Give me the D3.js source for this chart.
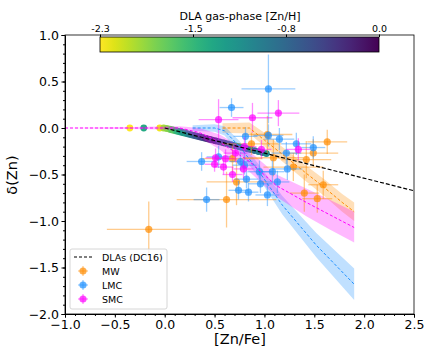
<!DOCTYPE html>
<html>
<head>
<meta charset="utf-8">
<script src="https://cdn.jsdelivr.net/npm/d3@7"></script>
<style>
  body { margin: 0; background: #fff; }
  svg { font-family: "DejaVu Sans", sans-serif; }
</style>
</head>
<body>
<div id="chart"></div>
<script>
// DLA points (De Cia 2016): [Zn/Fe] and gas-phase [Zn/H]
let dlaZnFe = [-0.35, -0.21, -0.05, -0.01, 0.02, 0.05, 0.07, 0.09, 0.11, 0.13, 0.15, 0.17, 0.19, 0.21,
    0.23, 0.25, 0.27, 0.29, 0.31, 0.33, 0.35, 0.37, 0.39, 0.41, 0.43, 0.45, 0.47, 0.5, 0.52, 0.55,
    0.58, 0.6, 0.63, 0.66, 0.68, 0.71, 0.74, 0.77, 0.8, 0.83, 0.86, 0.9, 0.94, 0.98, 1.02];
let dlaZnH = [-2.3, -1.4, -2.25, -2.0, -1.9, -1.85, -1.7, -1.75, -1.6, -1.5, -1.45, -1.3, -1.2, -1.35,
    -1.1, -1.0, -0.9, -0.8, -0.6, -0.7, -0.5, -0.4, -0.55, -0.3, -0.35, -0.2, -0.45, -0.25, -0.4, -0.6,
    -0.8, -0.7, -0.9, -1.0, -0.85, -1.1, -0.95, -1.2, -1.0, -0.9, -1.1, -0.8, -1.0, -0.9, -1.1];
let dlaDelta = dlaZnFe.map(function (v) { return v < 0 ? 0 : -0.27 * v; });

// DC16 relation
let dlaLineX = [0, 2.5];
let dlaLineY = [0, -0.675];

// MW / LMC / SMC sight lines: [Zn/Fe], delta(Zn), xerr, yerr
let mwX    = [-0.16, 0.62, 0.72, 0.68, 0.87, 1.03, 1.09, 1.29, 1.49, 1.63, 1.42, 1.59, 1.40, 1.53];
let mwY    = [-1.09, -0.77, -0.58, -0.33, -0.17, -0.07, -0.32, -0.42, -0.27, -0.15, -0.34, -0.61, -0.70, -0.76];
let mwXerr = [0.42, 0.5, 0.3, 0.3, 0.3, 0.25, 0.3, 0.3, 0.25, 0.2, 0.25, 0.15, 0.15, 0.15];
let mwYerr = [0.3, 0.3, 0.25, 0.15, 0.12, 0.2, 0.2, 0.15, 0.15, 0.13, 0.2, 0.15, 0.2, 0.15];

let lmcX    = [1.04, 0.67, 0.81, 1.04, 1.15, 1.32, 1.49, 1.22, 0.37, 0.54, 0.76, 0.80, 0.82, 0.95, 1.08,
    1.23, 0.96, 1.13, 0.74, 0.84, 1.03, 0.42];
let lmcY    = [0.42, 0.22, -0.09, -0.08, -0.12, -0.17, -0.21, -0.27, -0.36, -0.31, -0.36, -0.40, -0.55,
    -0.47, -0.47, -0.44, -0.60, -0.58, -0.67, -0.69, -0.72, -0.77];
let lmcXerr = [0.27, 0.12, 0.12, 0.15, 0.15, 0.15, 0.12, 0.15, 0.15, 0.12, 0.12, 0.12, 0.12, 0.12, 0.12,
    0.15, 0.12, 0.12, 0.1, 0.1, 0.12, 0.13];
let lmcYerr = [0.37, 0.1, 0.1, 0.12, 0.12, 0.12, 0.12, 0.12, 0.1, 0.12, 0.1, 0.1, 0.1, 0.12, 0.12,
    0.12, 0.1, 0.12, 0.1, 0.1, 0.12, 0.13];

let smcX    = [0.54, 0.88, 1.14, 0.71, 0.97, 0.80, 1.34, 0.51, 0.61, 0.50, 0.59, 0.68, 0.79];
let smcY    = [0.09, 0.11, 0.16, -0.27, -0.23, -0.20, -0.23, -0.32, -0.33, -0.39, -0.42, -0.50, -0.44];
let smcXerr = [0.2, 0.2, 0.21, 0.12, 0.1, 0.12, 0.12, 0.1, 0.1, 0.1, 0.1, 0.1, 0.1];
let smcYerr = [0.22, 0.16, 0.14, 0.1, 0.1, 0.1, 0.12, 0.1, 0.1, 0.08, 0.08, 0.08, 0.1];

// fitted relations with uncertainty bands
let mwFitX  = [0.58, 0.85, 1.0, 1.2, 1.4, 1.6, 1.78, 1.9];
let mwFitY  = [0, 0, -0.13, -0.3, -0.47, -0.64, -0.8, -0.9];
let mwFitLo = [-0.05, -0.06, -0.2, -0.38, -0.56, -0.73, -0.9, -1.0];
let mwFitHi = [0.05, 0.06, -0.05, -0.22, -0.39, -0.55, -0.71, -0.8];

let lmcFitX  = [0.28, 0.5, 0.6, 0.75, 0.92, 1.18, 1.52, 1.9];
let lmcFitY  = [0, 0, -0.03, -0.2, -0.43, -0.83, -1.26, -1.68];
let lmcFitLo = [-0.03, -0.04, -0.08, -0.26, -0.5, -0.93, -1.39, -1.85];
let lmcFitHi = [0.03, 0.04, 0.02, -0.14, -0.36, -0.73, -1.13, -1.51];

let smcFitX  = [-1.0, 0.15, 0.35, 0.55, 0.85, 1.12, 1.42, 1.65, 1.9];
let smcFitY  = [0, 0, -0.05, -0.15, -0.36, -0.62, -0.8, -0.93, -1.07];
let smcFitLo = [0, -0.02, -0.1, -0.23, -0.47, -0.74, -0.95, -1.09, -1.23];
let smcFitHi = [0, 0.02, 0.0, -0.07, -0.25, -0.5, -0.65, -0.77, -0.9];

let xTicks = [-1.0, -0.5, 0.0, 0.5, 1.0, 1.5, 2.0, 2.5];
let yTicks = [-2.0, -1.5, -1.0, -0.5, 0.0, 0.5, 1.0];
let cbarTicks = [-2.3, -1.5333, -0.7667, 0.0];
let cbarTickLabels = ["-2.3", "-1.5", "-0.8", "0.0"];

let width = 436, height = 349;
let svg = d3.select("#chart").append("svg").attr("width", width).attr("height", height);

let x = d3.scaleLinear().domain([-1, 2.5]).range([65, 414]);
let y = d3.scaleLinear().domain([-2, 1]).range([314, 35]);
let color = d3.scaleSequential(d3.interpolateViridis).domain([0, -2.3]);

svg.append("clipPath").attr("id", "clip").append("rect")
    .attr("x", 65).attr("y", 35).attr("width", 349).attr("height", 279);
let plot = svg.append("g").attr("clip-path", "url(#clip)");

let series = [
    {name: "MW", c: "#ff8c00", xs: mwX, ys: mwY, xe: mwXerr, ye: mwYerr, fx: mwFitX, fy: mwFitY, lo: mwFitLo, hi: mwFitHi},
    {name: "LMC", c: "#1e90ff", xs: lmcX, ys: lmcY, xe: lmcXerr, ye: lmcYerr, fx: lmcFitX, fy: lmcFitY, lo: lmcFitLo, hi: lmcFitHi},
    {name: "SMC", c: "#ff00ff", xs: smcX, ys: smcY, xe: smcXerr, ye: smcYerr, fx: smcFitX, fy: smcFitY, lo: smcFitLo, hi: smcFitHi}
];

// DLA points
plot.selectAll(".dla").data(dlaZnFe).enter().append("circle")
    .attr("class", "dla")
    .attr("cx", function (d) { return x(d); })
    .attr("cy", function (d, i) { return y(dlaDelta[i]); })
    .attr("r", 3.4)
    .attr("fill", function (d, i) { return color(dlaZnH[i]); });

let area = d3.area()
    .x(function (d) { return x(d[0]); })
    .y0(function (d) { return y(d[1]); })
    .y1(function (d) { return y(d[2]); });
let line = d3.line()
    .x(function (d) { return x(d[0]); })
    .y(function (d) { return y(d[1]); });

series.forEach(function (s) {
    let pts = s.fx.map(function (v, i) { return [v, s.lo[i], s.hi[i]]; });
    plot.append("path").attr("d", area(pts)).attr("fill", s.c).attr("fill-opacity", 0.28);
});

series.forEach(function (s) {
    let g = plot.append("g");
    s.xs.forEach(function (v, i) {
        g.append("line")
            .attr("x1", x(v - s.xe[i])).attr("x2", x(v + s.xe[i]))
            .attr("y1", y(s.ys[i])).attr("y2", y(s.ys[i]))
            .attr("stroke", s.c).attr("stroke-opacity", 0.45).attr("stroke-width", 1.3);
        g.append("line")
            .attr("x1", x(v)).attr("x2", x(v))
            .attr("y1", y(s.ys[i] - s.ye[i])).attr("y2", y(s.ys[i] + s.ye[i]))
            .attr("stroke", s.c).attr("stroke-opacity", 0.45).attr("stroke-width", 1.3);
    });
    g.selectAll("circle").data(s.xs).enter().append("circle")
        .attr("cx", function (d) { return x(d); })
        .attr("cy", function (d, i) { return y(s.ys[i]); })
        .attr("r", 3.6)
        .attr("fill", s.c).attr("fill-opacity", 0.7);
});

series.forEach(function (s) {
    let pts = s.fx.map(function (v, i) { return [v, s.fy[i]]; });
    plot.append("path").attr("d", line(pts)).attr("fill", "none")
        .attr("stroke", s.c).attr("stroke-width", 1).attr("stroke-dasharray", "3,2");
});

plot.append("path")
    .attr("d", line(dlaLineX.map(function (v, i) { return [v, dlaLineY[i]]; })))
    .attr("fill", "none").attr("stroke", "#000").attr("stroke-width", 1.2)
    .attr("stroke-dasharray", "4,2");

// axes
let fmt = d3.format(".1f");
let xAxis = svg.append("g").attr("transform", "translate(0,314)")
    .call(d3.axisBottom(x).tickValues(xTicks).tickFormat(fmt).tickSizeOuter(0).tickSize(3.5).tickPadding(2.5));
let yAxis = svg.append("g").attr("transform", "translate(65,0)")
    .call(d3.axisLeft(y).tickValues(yTicks).tickFormat(fmt).tickSizeOuter(0).tickSize(3.5).tickPadding(2.5));
svg.append("g").attr("transform", "translate(0,314)")
    .call(d3.axisBottom(x).tickValues(d3.range(-10, 26).map(function (d) { return d / 10; }))
        .tickFormat("").tickSizeOuter(0).tickSize(2))
    .select(".domain").remove();
svg.append("g").attr("transform", "translate(65,0)")
    .call(d3.axisLeft(y).tickValues(d3.range(-20, 11).map(function (d) { return d / 10; }))
        .tickFormat("").tickSizeOuter(0).tickSize(2))
    .select(".domain").remove();
[xAxis, yAxis].forEach(function (a) {
    a.selectAll("text").attr("font-size", 12.5).attr("fill", "#000").attr("font-family", "DejaVu Sans");
    a.selectAll("line").attr("stroke", "#000");
});
svg.append("rect").attr("x", 65).attr("y", 35).attr("width", 349).attr("height", 279)
    .attr("fill", "none").attr("stroke", "#000").attr("stroke-width", 0.8);

svg.append("text").attr("x", 240).attr("y", 344).attr("text-anchor", "middle")
    .attr("font-size", 14.5).text("[Zn/Fe]");
svg.append("text").attr("transform", "translate(17,175) rotate(-90)").attr("text-anchor", "middle")
    .attr("font-size", 14.5).text("δ(Zn)");

// colorbar
let cb = d3.scaleLinear().domain([-2.3, 0]).range([100, 379]);
let grad = svg.append("defs").append("linearGradient").attr("id", "cbar")
    .attr("x1", "0%").attr("x2", "100%").attr("y1", "0%").attr("y2", "0%");
d3.range(0, 1.0001, 0.05).forEach(function (t) {
    grad.append("stop").attr("offset", (t * 100) + "%").attr("stop-color", d3.interpolateViridis(1 - t));
});
svg.append("rect").attr("x", 100).attr("y", 37).attr("width", 279).attr("height", 15)
    .attr("fill", "url(#cbar)").attr("stroke", "#000").attr("stroke-width", 0.8);
let cbAxis = svg.append("g").attr("transform", "translate(0,37)")
    .call(d3.axisTop(cb).tickValues(cbarTicks).tickFormat(function (d, i) { return cbarTickLabels[i]; })
        .tickSize(2.5).tickSizeOuter(0));
cbAxis.select(".domain").remove();
cbAxis.selectAll("text").attr("font-size", 9.5).attr("font-family", "DejaVu Sans").attr("fill", "#000");
svg.append("text").attr("x", 240).attr("y", 20).attr("text-anchor", "middle")
    .attr("font-size", 11).text("DLA gas-phase [Zn/H]");

// legend
let leg = svg.append("g");
leg.append("rect").attr("x", 70).attr("y", 249).attr("width", 97).attr("height", 60).attr("rx", 2)
    .attr("fill", "#fff").attr("fill-opacity", 0.8).attr("stroke", "#ccc").attr("stroke-width", 0.8);
leg.append("line").attr("x1", 74).attr("x2", 93).attr("y1", 257).attr("y2", 257)
    .attr("stroke", "#000").attr("stroke-width", 1.2).attr("stroke-dasharray", "3,2");
leg.append("text").attr("x", 102).attr("y", 260.5).attr("font-size", 9.5).text("DLAs (DC16)");
series.forEach(function (s, i) {
    let ly = 271 + i * 14;
    leg.append("line").attr("x1", 78).attr("x2", 88).attr("y1", ly).attr("y2", ly)
        .attr("stroke", s.c).attr("stroke-opacity", 0.45).attr("stroke-width", 1.3);
    leg.append("line").attr("x1", 83).attr("x2", 83).attr("y1", ly - 5).attr("y2", ly + 5)
        .attr("stroke", s.c).attr("stroke-opacity", 0.45).attr("stroke-width", 1.3);
    leg.append("circle").attr("cx", 83).attr("cy", ly).attr("r", 3.6)
        .attr("fill", s.c).attr("fill-opacity", 0.7);
    leg.append("text").attr("x", 102).attr("y", ly + 3.5).attr("font-size", 9.5).text(s.name);
});
</script>
</body>
</html>
